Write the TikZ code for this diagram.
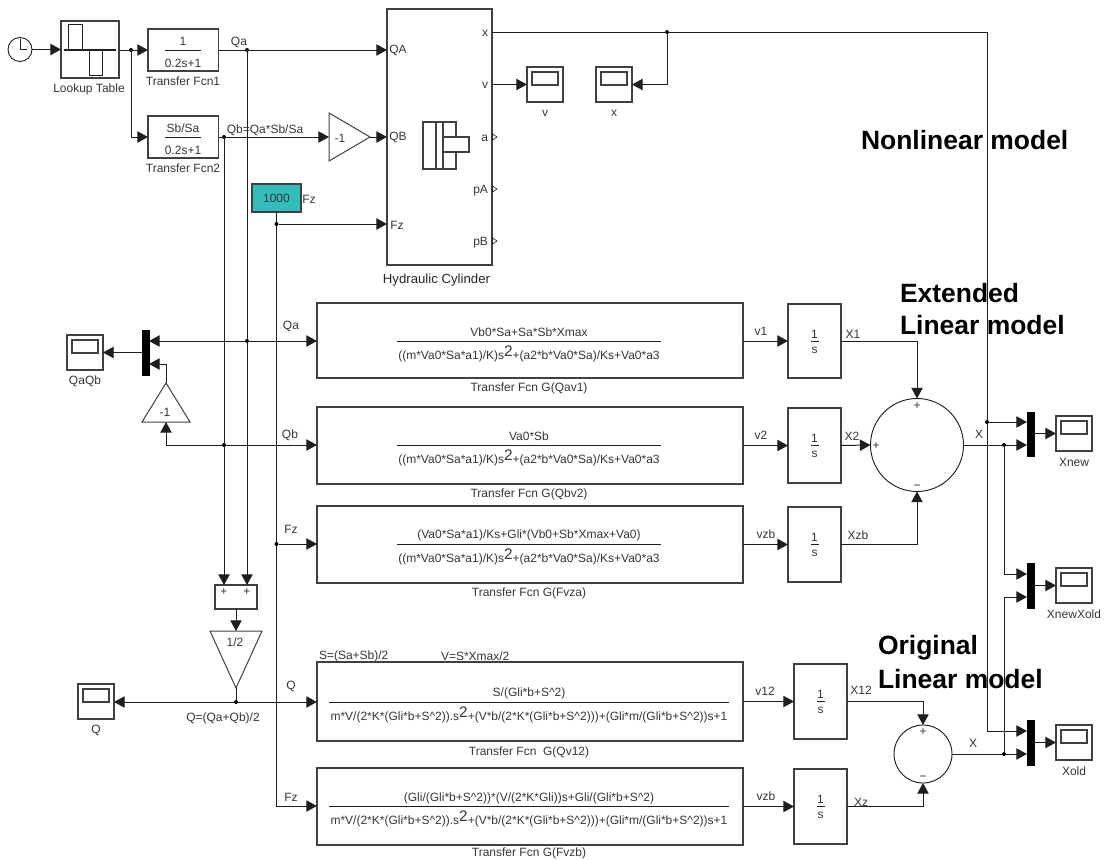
\documentclass[tikz,border=0pt]{standalone}
\usepackage{fontspec}
\setmainfont{Liberation Sans}
\usetikzlibrary{arrows.meta,fit,calc}
\definecolor{wirec}{HTML}{1E1E1E}
\definecolor{textc}{HTML}{353535}
\definecolor{tealc}{HTML}{33BDBD}
\newcommand{\sq}{\raisebox{2.4pt}{\fontsize{11.5pt}{11.5pt}\selectfont 2}}
\tikzset{
  wire/.style={draw=wirec,line width=0.75pt},
  arr/.style={wire,-{Triangle[length=8pt,width=8.5pt]}},
  blk/.style={draw=wirec!85!white,line width=0.9pt,inner sep=0pt,outer sep=0pt,rectangle},
  muxb/.style={fill=black,draw=black,line width=0pt,inner sep=0pt,outer sep=0pt,rectangle},
  lbl/.style={inner sep=0pt,outer sep=0pt,yshift=-0.9pt,text=textc,font=\fontsize{9pt}{10pt}\selectfont},
  capn/.style={lbl},
  big/.style={inner sep=0pt,outer sep=0pt,anchor=west,text=black,font=\fontsize{19.85pt}{24pt}\selectfont\bfseries},
  jdot/.style={circle,fill=black,inner sep=0pt,minimum size=3pt,outer sep=0pt},
  frac/.style={wire,line width=0.7pt},
  outp/.style={draw=wirec,line width=0.5pt,fill=white},
  sumc/.style={circle,draw=wirec,line width=0.7pt,inner sep=0pt,outer sep=0pt},
}
\newcommand{\scp}[4]{% name, x, y, caption
  \node[blk,fit={(#2,#3)(#2+36,#3+35)}] (#1) {};
  \draw[line width=0.8pt,draw=wirec!85!white] (#2+5,#3+5) rectangle (#2+31,#3+18);
  \node[lbl] (#1cap) at (#2+18,#3+45) {#4};
}
\newcommand{\muxn}[3]{% name, top, bottom
  \node[muxb,fit={(1027,#2)(1034,#3)}] (#1) {};
}
\newcommand{\intg}[5]{% name,x1,y1,x2,y2
  \node[blk,fit={(#2,#3)(#4,#5)}] (#1) {};
  \draw[frac] ($(#1.center)+(-4,0)$) -- ($(#1.center)+(4,0)$);
  \node[lbl] (#1n) at ($(#1.center)+(0,-8)$) {1};
  \node[lbl] (#1d) at ($(#1.center)+(0,8)$) {s};
}
\begin{document}
\begin{tikzpicture}[x=0.75pt,y=-0.75pt]
\useasboundingbox (0,0) rectangle (1111,860);
% Big labels
\node[big] (nl) at (861,140) {Nonlinear model};
\node[big] (ex1) at (900,293) {Extended};
\node[big] (ex2) at (900,325) {Linear model};
\node[big] (or1) at (878,648) {Original};
\node[big] (or2) at (878,679) {Linear model};
% Source
\node[circle,draw=wirec,line width=0.7pt,minimum size=18pt,inner sep=0pt,outer sep=0pt] (clock) at (20,49.5) {};
\draw[wire,line width=0.7pt] (20,39) -- (20,49.5) -- (27,49.5);
\node[blk,fit={(61,21)(119,78)}] (lut) {};
\draw[wire,line width=1pt] (64,50) -- (116,50);
\draw[wire,line width=0.7pt] (68,50) -- (68,24) -- (82,24) -- (82,50);
\draw[wire,line width=0.7pt] (89,50) -- (89,75) -- (102,75) -- (102,50);
\node[capn] (lutc) at (89,88) {Lookup Table};
% Transfer fcn 1,2
\node[blk,fit={(148,29)(218.5,71)}] (tf1) {};
\draw[frac] (165,50) -- (201,50);
\node[lbl] (tf1n) at (183,40) {1};
\node[lbl] (tf1d) at (183,62) {0.2s+1};
\node[capn] (tf1c) at (183,80) {Transfer Fcn1};
\node[blk,fit={(148,116)(218.5,158)}] (tf2) {};
\draw[frac] (165,137) -- (201,137);
\node[lbl] (tf2n) at (183,127) {Sb/Sa};
\node[lbl] (tf2d) at (183,149) {0.2s+1};
\node[capn] (tf2c) at (183,167) {Transfer Fcn2};
% Gain
\coordinate (g1a) at (329,113); \coordinate (g1b) at (370,137); \coordinate (g1c) at (329,161);
\coordinate (g1in) at (329,137);
\draw[wire,draw=wirec!85!white] (g1a) -- (g1b) -- (g1c) -- cycle;
\node[lbl] (g1t) at (340,137) {-1};
% Constant
\node[blk,fit={(252,184)(301,212)},fill=tealc] (fz) {};
\node[lbl,text=black!80] (fzt) at (276.5,197) {1000};
\node[lbl] (fzl) at (309,198) {Fz};
% Hydraulic cylinder
\node[blk,fit={(387,9)(492,265)}] (hc) {};
\node[lbl] (pQA) at (398,49) {QA};
\node[lbl] (pQB) at (398,136) {QB};
\node[lbl] (pFz) at (397,224) {Fz};
\node[lbl,anchor=east] (px) at (488,32) {x};
\node[lbl,anchor=east] (pv) at (488,84) {v};
\node[lbl,anchor=east] (pa) at (488,137) {a};
\node[lbl,anchor=east] (ppA) at (488,189) {pA};
\node[lbl,anchor=east] (ppB) at (488,241) {pB};
\foreach \yy in {137,189,241} \draw[outp] (492.5,\yy-3) -- (497,\yy) -- (492.5,\yy+3) -- cycle;
\draw[wire,draw=wirec!85!white,line width=0.8pt] (423,122) rectangle (456,169);
\draw[wire,draw=wirec!85!white,line width=0.8pt] (436,122) -- (436,169);
\draw[wire,draw=wirec!85!white,line width=0.8pt] (443,122) -- (443,169);
\draw[wire,draw=wirec!85!white,line width=0.8pt,fill=white] (443,137) rectangle (469,152);
\node[lbl,text=black!85,font=\fontsize{9.9pt}{12pt}\selectfont] (hcc) at (436.5,279) {Hydraulic Cylinder};
% Scopes
\scp{sv}{527}{67}{v}
\scp{sx}{596}{67}{x}
\scp{sqq}{67}{335}{QaQb}
\scp{sq}{78}{684}{Q}
\scp{snew}{1056}{416}{Xnew}
\scp{sno}{1056}{568}{XnewXold}
\scp{sold}{1056}{725}{Xold}
% Left mux
\node[muxb,fit={(142,330)(149,375)}] (mqq) {};
% Minus-one gain (vertical)
\coordinate (g2a) at (142,422); \coordinate (g2b) at (190,422); \coordinate (g2t) at (166,383); \coordinate (g2in) at (166,422);
\draw[wire,draw=wirec!85!white] (g2a) -- (g2b) -- (g2t) -- cycle;
\node[lbl] (g2l) at (165,411) {-1};
% Adder and half gain
\node[blk,fit={(215,585)(257,609)}] (add) {};
\node[lbl] (addp1) at (224,591) {+};
\node[lbl] (addp2) at (247,591) {+};
\coordinate (g3a) at (210,631); \coordinate (g3b) at (262,631); \coordinate (g3t) at (236,688); \coordinate (g3in) at (236,631);
\draw[wire,draw=wirec!85!white] (g3a) -- (g3b) -- (g3t) -- cycle;
\node[lbl] (g3l) at (235,641) {1/2};
\coordinate (add1) at (224,585); \coordinate (add2) at (247,585);
% Transfer boxes
\node[blk,fit={(317,303)(743,378)}] (ga) {};
\draw[frac] (397,341) -- (661,341);
\node[lbl] (gan) at (529,331) {Vb0*Sa+Sa*Sb*Xmax};
\node[lbl] (gad) at (529,353) {((m*Va0*Sa*a1)/K)s\sq+(a2*b*Va0*Sa)/Ks+Va0*a3};
\node[capn] (gac) at (529,387) {Transfer Fcn G(Qav1)};
\node[blk,fit={(317,407)(743,484)}] (gb) {};
\draw[frac] (397,445) -- (661,445);
\node[lbl] (gbn) at (529,435) {Va0*Sb};
\node[lbl] (gbd) at (529,457) {((m*Va0*Sa*a1)/K)s\sq+(a2*b*Va0*Sa)/Ks+Va0*a3};
\node[capn] (gbc) at (529,493.5) {Transfer Fcn G(Qbv2)};
\node[blk,fit={(317,506)(743,583)}] (gc) {};
\draw[frac] (397,544) -- (661,544);
\node[lbl] (gcn) at (529,534) {(Va0*Sa*a1)/Ks+Gli*(Vb0+Sb*Xmax+Va0)};
\node[lbl] (gcd) at (529,556) {((m*Va0*Sa*a1)/K)s\sq+(a2*b*Va0*Sa)/Ks+Va0*a3};
\node[capn] (gcc) at (529,592) {Transfer Fcn G(Fvza)};
\node[blk,fit={(317,662)(743,741)}] (gd) {};
\draw[frac] (329,702) -- (729,702);
\node[lbl] (gdn) at (529,692) {S/(Gli*b+S\^{}2)};
\node[lbl] (gdd) at (529,714) {m*V/(2*K*(Gli*b+S\^{}2)).s\sq+(V*b/(2*K*(Gli*b+S\^{}2)))+(Gli*m/(Gli*b+S\^{}2))s+1};
\node[capn] (gdc) at (529,751) {Transfer Fcn\ \ G(Qv12)};
\node[lbl,anchor=west] (st1) at (319,655) {S=(Sa+Sb)/2};
\node[lbl,anchor=west] (st2) at (441,655) {V=S*Xmax/2};
\node[blk,fit={(317,768)(743,845)}] (ge) {};
\draw[frac] (329,806) -- (729,806);
\node[lbl] (gen) at (529,797) {(Gli/(Gli*b+S\^{}2))*(V/(2*K*Gli))s+Gli/(Gli*b+S\^{}2)};
\node[lbl] (ged) at (529,818) {m*V/(2*K*(Gli*b+S\^{}2)).s\sq+(V*b/(2*K*(Gli*b+S\^{}2)))+(Gli*m/(Gli*b+S\^{}2))s+1};
\node[capn] (gec) at (529,852.5) {Transfer Fcn G(Fvzb)};
% Integrators
\intg{ia}{788}{304}{841}{378}
\intg{ib}{788}{408}{841}{483}
\intg{ic}{788}{507}{841}{582}
\intg{id}{794}{664}{847}{739}
\intg{ie}{794}{769}{847}{844}
% Sums
\node[sumc,minimum size=69.75pt] (s1) at (917,445) {};
\node[lbl] (s1a) at (917,405) {+};
\node[lbl] (s1b) at (876,445) {+};
\node[lbl] (s1c) at (917,486) {−};
\node[sumc,minimum size=43.5pt] (s2) at (923,754) {};
\node[lbl] (s2a) at (923,731) {+};
\node[lbl] (s2c) at (923,777) {−};
% Muxes right
\muxn{m1}{412}{456}
\muxn{m2}{563}{608}
\muxn{m3}{720}{765}
% Junctions
\node[jdot] (j0) at (131,50) {};
\node[jdot] (jQa) at (247,50) {};
\node[jdot] (jQb) at (224,137) {};
\node[jdot] (jFz) at (276.5,224) {};
\node[jdot] (jx) at (667,32) {};
\node[jdot] (jQa2) at (247,341) {};
\node[jdot] (jQb2) at (224,445) {};
\node[jdot] (jFz2) at (276.5,544) {};
\node[jdot] (jQ) at (236,702) {};
\node[jdot] (jX0) at (987,422) {};
\node[jdot] (jX1) at (1004,445) {};
\node[jdot] (jX2) at (1004,754) {};
% Top wires
\draw[arr] (clock.east) -- (lut.west |- clock.east);
\draw[arr] (lut.east |- j0) -- (tf1.west |- j0);
\draw[arr] (j0) |- (tf2.west);
\draw[arr] (tf1.east) -- (hc.west |- tf1.east);
\draw[wire] (jQa) -- (jQa2);
\draw[arr] (jQa2) -- (add2);
\draw[arr] (tf2.east) -- (g1in);
\draw[arr] (g1b) -- (hc.west |- g1b);
\draw[wire] (jQb) -- (jQb2);
\draw[arr] (jQb2) -- (add1);
\draw[arr] (jFz) -- (hc.west |- jFz);
\draw[wire] (fz.south) -- (jFz);
\draw[wire] (jFz) -- (jFz2);
\draw[wire] (hc.east |- jx) -- (jx);
\draw[arr] (jx) |- (sx.east);
\draw[arr] (hc.east |- sv.west) -- (sv.west);
\draw[wire] (jx) -| (jX0);
\draw[arr] (jX0) -- (m1.west |- jX0);
\draw[arr] (jX0) |- (m3.west |- 0,731);
% Left block wires
\draw[arr] (jQa2) -- (ga.west |- jQa2);
\draw[arr] (jQa2) -- (mqq.east |- jQa2);
\draw[arr] (jQb2) -- (gb.west |- jQb2);
\draw[arr] (jQb2) -| (g2in);
\draw[arr] (g2t) |- (mqq.east |- 0,364);
\draw[arr] (mqq.west |- sqq.east) -- (sqq.east);
\draw[arr] (jFz2) -- (gc.west |- jFz2);
\draw[arr] (jFz2) |- (ge.west |- 0,806);
\draw[arr] (add.south) -- (g3in);
\draw[wire] (g3t) -- (jQ);
\draw[arr] (jQ) -- (sq.east |- jQ);
\draw[arr] (jQ) -- (gd.west |- jQ);
% TF to integrator
\draw[arr] (ga.east |- ia.west) -- (ia.west);
\draw[arr] (gb.east |- ib.west) -- (ib.west);
\draw[arr] (gc.east |- ic.west) -- (ic.west);
\draw[arr] (gd.east |- id.west) -- (id.west);
\draw[arr] (ge.east |- ie.west) -- (ie.west);
\node[lbl] (lv1) at (761,330) {v1};
\node[lbl] (lv2) at (761,434) {v2};
\node[lbl] (lvzb) at (766,533) {vzb};
\node[lbl] (lv12) at (765,690) {v12};
\node[lbl] (lvzb2) at (766,795) {vzb};
% integrator to sum
\draw[arr] (ia.east) -| (s1.north);
\draw[arr] (ib.east) -- (s1.west);
\draw[arr] (ic.east) -| (s1.south);
\draw[arr] (id.east) -| (s2.north);
\draw[arr] (ie.east) -| (s2.south);
\draw[arr] (s1.east) -- (m1.west |- s1.east);
\draw[wire] (s2.east) -- (jX2);
\draw[arr] (jX2) -- (m3.west |- jX2);
\draw[arr] (jX1) |- (m2.west |- 0,574);
\draw[arr] (jX2) |- (m2.west |- 0,597);
% mux to scope
\draw[arr] (m1.east |- snew.west) -- (snew.west);
\draw[arr] (m2.east |- sno.west) -- (sno.west);
\draw[arr] (m3.east |- sold.west) -- (sold.west);
% Wire labels
\node[lbl] (lQa) at (239,41) {Qa};
\node[lbl] (lQb) at (265,129) {Qb=Qa*Sb/Sa};
\node[lbl] (lQa2) at (291,325) {Qa};
\node[lbl] (lQb2) at (290,434) {Qb};
\node[lbl] (lFz2) at (291,528) {Fz};
\node[lbl] (lQ) at (291,685) {Q};
\node[lbl] (lQq) at (223,717) {Q=(Qa+Qb)/2};
\node[lbl] (lFz3) at (291,796) {Fz};
\node[lbl] (lX1) at (853,333) {X1};
\node[lbl] (lX2) at (852,435) {X2};
\node[lbl] (lXzb) at (858,534) {Xzb};
\node[lbl] (lX) at (979,433) {X};
\node[lbl] (lX12) at (861,689) {X12};
\node[lbl] (lXz) at (861,801) {Xz};
\node[lbl] (lXb) at (973,742) {X};
\end{tikzpicture}
\end{document}
